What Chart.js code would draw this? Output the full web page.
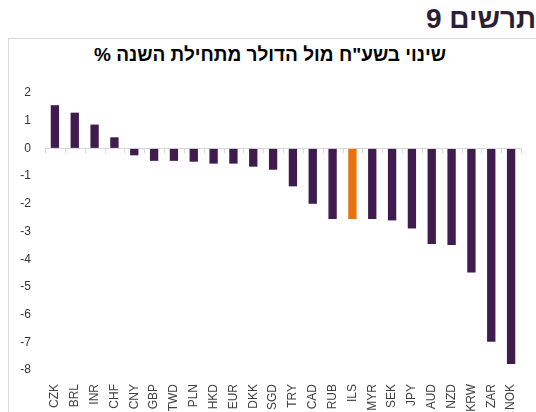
<!DOCTYPE html>
<html lang="he">
<head>
<meta charset="utf-8">
<script src="https://cdn.jsdelivr.net/npm/chart.js@4"></script>
<style>
  html, body { margin: 0; padding: 0; background: #fff; }
  body { width: 536px; height: 412px; position: relative; overflow: hidden; font-family: Arial, "Liberation Sans", sans-serif; }
  #header { position: absolute; left: 426px; top: 3px; white-space: nowrap; font-size: 28px; font-weight: bold; color: #2b1f35; direction: rtl; }
  #box { position: absolute; left: 8px; top: 38px; width: 540px; height: 390px; border-left: 1px solid #d9d9d9; border-top: 1px solid #d9d9d9; }
  #title { position: absolute; left: 0; width: 540px; top: 44px; text-align: center; font-size: 19px; font-weight: bold; color: #000; direction: rtl; }
  #chart { position: absolute; left: 0; top: 0; }
</style>
</head>
<body>
<div id="header">תרשים 9</div>
<div id="box"></div>
<div id="title">שינוי בשע"ח מול הדולר מתחילת השנה %</div>
<canvas id="chart" width="536" height="412"></canvas>
<script>
// currencies, ordered as in the picture
const currencies = ["CZK", "BRL", "INR", "CHF", "CNY", "GBP", "TWD", "PLN", "HKD", "EUR", "DKK", "SGD",
  "TRY", "CAD", "RUB", "ILS", "MYR", "SEK", "JPY", "AUD", "NZD", "KRW", "ZAR", "NOK"];
// % change vs USD since start of year
const changes = [1.56, 1.29, 0.86, 0.40, -0.25, -0.45, -0.45, -0.48, -0.55, -0.55, -0.66, -0.77,
  -1.37, -2.0, -2.55, -2.55, -2.55, -2.6, -2.89, -3.45, -3.49, -4.48, -6.98, -7.78];
const yTicks = [2, 1, 0, -1, -2, -3, -4, -5, -6, -7, -8];
const highlight = "ILS";

const purple = "#3f1c4d";
const orange = "#e8730e";

// small tick marks under the zero line, at category boundaries
const zeroTicks = {
  id: "zeroTicks",
  afterDatasetsDraw(chart) {
    const x = chart.scales.x, y = chart.scales.y;
    const y0 = y.getPixelForValue(0);
    const ctx = chart.ctx;
    const n = currencies.length;
    const step = (x.getPixelForValue(n - 1) - x.getPixelForValue(0)) / (n - 1);
    ctx.save();
    ctx.strokeStyle = "#d9d9d9";
    ctx.lineWidth = 1;
    for (let i = 0; i <= n; i++) {
      const px = Math.round(x.getPixelForValue(0) - step / 2 + i * step) + 0.5;
      ctx.beginPath();
      ctx.moveTo(px, y0);
      ctx.lineTo(px, y0 + 5);
      ctx.stroke();
    }
    ctx.restore();
  }
};

new Chart(document.getElementById("chart"), {
  type: "bar",
  data: {
    labels: currencies,
    datasets: [{
      data: changes,
      backgroundColor: currencies.map(c => c === highlight ? orange : purple),
      barPercentage: 0.42,
      categoryPercentage: 1
    }]
  },
  options: {
    responsive: false,
    animation: false,
    layout: { padding: { left: 8, right: 15, top: 93, bottom: 0 } },
    plugins: { legend: { display: false }, tooltip: { enabled: false } },
    scales: {
      x: {
        offset: true,
        grid: { display: false },
        border: { display: false },
        ticks: {
          minRotation: 90, maxRotation: 90, autoSkip: false, padding: 6,
          color: "#404040", font: { family: "Arial, 'Liberation Sans', sans-serif", size: 12 }
        },
        afterFit: s => { s.height = 42; }
      },
      y: {
        min: -8, max: 2,
        afterBuildTicks: s => { s.ticks = yTicks.map(v => ({ value: v })); },
        grid: {
          drawTicks: false,
          color: c => c.tick && c.tick.value === 0 ? "#d9d9d9" : "transparent"
        },
        border: { display: false },
        ticks: {
          padding: 14,
          color: "#333",
          font: { family: "Arial, 'Liberation Sans', sans-serif", size: 12 }
        },
        afterFit: s => { s.width = 37; }
      }
    }
  },
  plugins: [zeroTicks]
});
</script>
</body>
</html>
